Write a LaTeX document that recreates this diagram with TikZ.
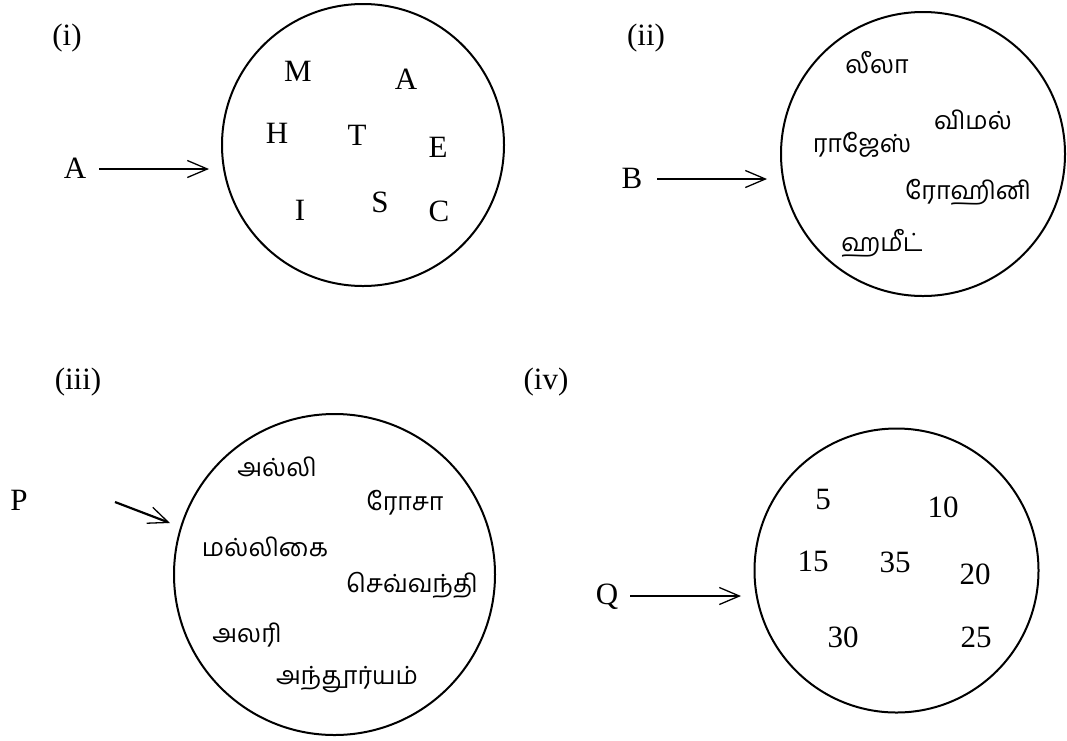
\documentclass[tikz,border=0pt]{standalone}
\usepackage{fontspec}
\setmainfont{Liberation Serif}
\newfontfamily\tam[Script=Tamil]{Hind Madurai}
\usetikzlibrary{arrows.meta}
\tikzset{
  lat/.style={font=\fontsize{31}{33}\selectfont, inner sep=0pt},
  tm/.style={font=\tam\fontsize{25}{27}\selectfont, inner sep=0pt},
  setc/.style={draw, circle, line width=2pt, inner sep=0pt},
  arr/.style={line width=2.2pt, -{Straight Barb[length=20pt,width=17pt,line width=1.3pt]}}
}
\begin{document}
\begin{tikzpicture}[x=1pt,y=-1pt]
\useasboundingbox (0,0) rectangle (1067,740);
% (i)
\node[lat] (l1) at (67,38) {(i)};
\node[setc, minimum size=282pt] (c1) at (363,145) {};
\node[lat] (nA) at (75,168) {A};
\coordinate (a1s) at (99,169);
\coordinate (a1e) at (209,169);
\draw[arr] (a1s) -- (a1e);
\node[lat] (e1) at (298,71) {M};
\node[lat] (e2) at (406,79) {A};
\node[lat] (e3) at (277,133) {H};
\node[lat] (e4) at (357,135) {T};
\node[lat] (e5) at (438,147) {E};
\node[lat] (e6) at (300,210) {I};
\node[lat] (e7) at (380,202) {S};
\node[lat] (e8) at (439,211) {C};
% (ii)
\node[lat] (l2) at (646,38) {(ii)};
\node[setc, minimum size=284pt] (c2) at (923,154) {};
\node[lat] (nB) at (632,178) {B};
\coordinate (a2s) at (657,179);
\coordinate (a2e) at (767,179);
\draw[arr] (a2s) -- (a2e);
\node[tm] (b1) at (877,63) {லீலா};
\node[tm] (b2) at (973,120) {விமல்};
\node[tm] (b3) at (862,145) {ராஜேஸ்};
\node[tm] (b4) at (968,192) {ரோஹினி};
\node[tm] (b5) at (882,243) {ஹமீட்};
% (iii)
\node[lat] (l3) at (78,382) {(iii)};
\node[setc, minimum size=321pt] (c3) at (334.5,574.5) {};
\node[lat] (nP) at (19,500) {P};
\coordinate (a3s) at (115,502);
\coordinate (a3e) at (170,523);
\draw[arr] (a3s) -- (a3e);
\node[tm] (p1) at (277,467) {அல்லி};
\node[tm] (p2) at (405,503) {ரோசா};
\node[tm] (p3) at (265,547) {மல்லிகை};
\node[tm] (p4) at (412,585) {செவ்வந்தி};
\node[tm] (p5) at (247,635) {அலரி};
\node[tm] (p6) at (347,680) {அந்தூர்யம்};
% (iv)
\node[lat] (l4) at (546,382) {(iv)};
\node[setc, minimum size=284pt] (c4) at (896.5,570.5) {};
\node[lat] (nQ) at (607,597) {Q};
\coordinate (a4s) at (630,596);
\coordinate (a4e) at (741,596);
\draw[arr] (a4s) -- (a4e);
\node[lat] (q1) at (823,499) {5};
\node[lat] (q2) at (943,507) {10};
\node[lat] (q3) at (813,561) {15};
\node[lat] (q4) at (895,562) {35};
\node[lat] (q5) at (975,574) {20};
\node[lat] (q6) at (843,637) {30};
\node[lat] (q7) at (976,637) {25};
\end{tikzpicture}
\end{document}
